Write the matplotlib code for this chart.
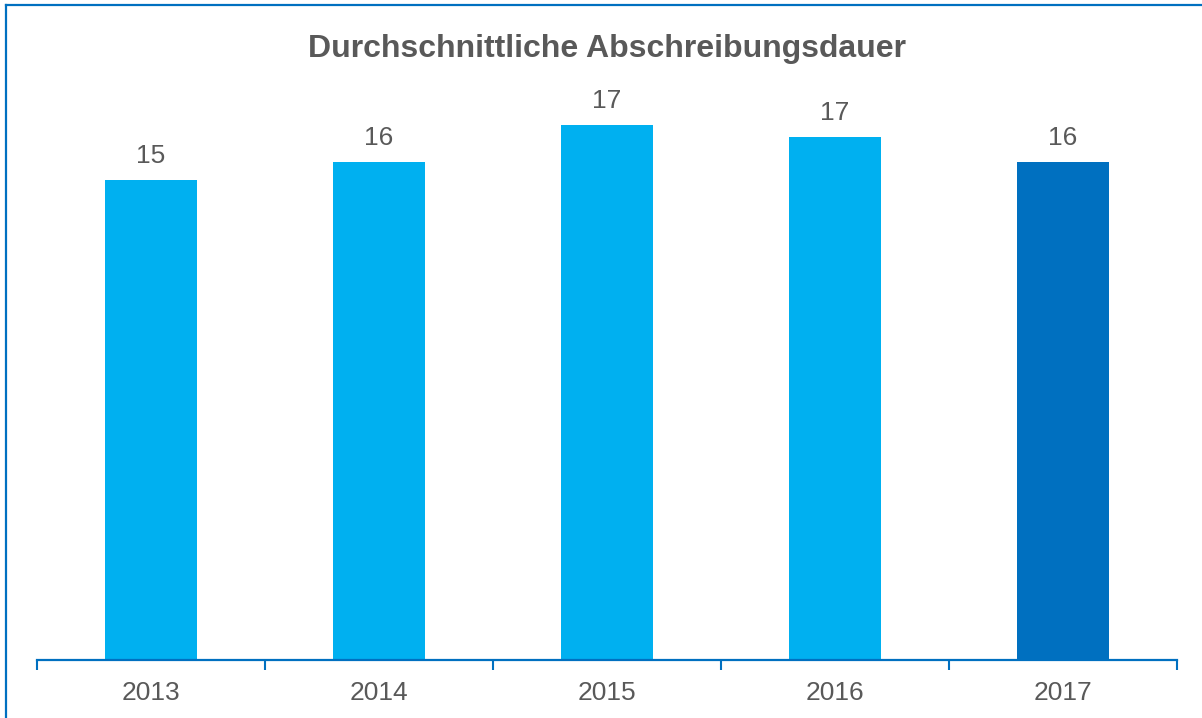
import matplotlib
matplotlib.use("Agg")
import matplotlib.pyplot as plt
from matplotlib.lines import Line2D

years = ["2013", "2014", "2015", "2016", "2017"]
values = [15.0, 15.56, 16.72, 16.34, 15.56]
value_labels = ["15", "16", "17", "17", "16"]
bar_colors = ["#00B0F0", "#00B0F0", "#00B0F0", "#00B0F0", "#0070C0"]
title = "Durchschnittliche Abschreibungsdauer"

plt.rcParams['font.family'] = ['Liberation Sans', 'DejaVu Sans']
W, H = 1202, 718
fig = plt.figure(figsize=(W / 100, H / 100), dpi=100)
fig.patch.set_facecolor("white")

ax_left, ax_right = 37, 1177
ax_bottom_px, ax_top_px = 660, 60
ax = fig.add_axes([ax_left / W, (H - ax_bottom_px) / H,
                   (ax_right - ax_left) / W, (ax_bottom_px - ax_top_px) / H])

x = list(range(len(years)))
ax.bar(x, values, width=0.4, color=bar_colors, zorder=2)
ax.set_xlim(-0.5, len(years) - 0.5)
ax.set_ylim(0, 600 / 32)

for xi, v, lab in zip(x, values, value_labels):
    ax.annotate(lab, (xi, v), xytext=(0, 12), textcoords="offset points",
                ha="center", va="baseline", fontsize=19, color="#595959")

for s in ["top", "right", "left"]:
    ax.spines[s].set_visible(False)
ax.spines["bottom"].set_color("#0070C0")
ax.spines["bottom"].set_linewidth(1.6)
ax.set_yticks([])

ax.set_xticks([i - 0.5 for i in range(len(years) + 1)])
ax.set_xticklabels([])
ax.tick_params(axis="x", which="major", length=7, width=1.5, color="#0070C0", direction="out")
ax.set_xticks(x, minor=True)
ax.set_xticklabels(years, minor=True)
ax.tick_params(axis="x", which="minor", length=0, pad=15, labelsize=19, labelcolor="#595959")

fig.text(607 / W, (H - 57) / H, title, ha="center", va="baseline",
         fontsize=23, fontweight="bold", color="#595959")

fig.add_artist(Line2D([6 / W, 1.0], [(H - 5) / H, (H - 5) / H], transform=fig.transFigure,
                      color="#0070C0", linewidth=1.6))
fig.add_artist(Line2D([6 / W, 6 / W], [0, (H - 5) / H], transform=fig.transFigure,
                      color="#0070C0", linewidth=1.6))

fig.savefig("out.png", dpi=100)
